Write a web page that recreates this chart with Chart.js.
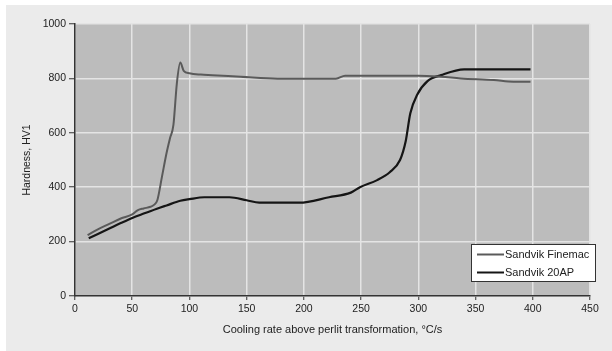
<!DOCTYPE html>
<html><head><meta charset="utf-8">
<script src="https://cdn.jsdelivr.net/npm/chart.js@4/dist/chart.umd.min.js"></script>
<style>html,body{margin:0;padding:0;background:#fff;}#wrap{width:612px;height:351px;}</style>
</head><body><div id="wrap"><canvas id="c" width="612" height="351"></canvas></div>
<script>
const seriesNames = ["Sandvik Finemac", "Sandvik 20AP"];
const finemacX = [11, 20, 30, 40, 50, 55, 60, 66, 69, 72, 76, 80, 83, 86, 89, 92, 95, 100, 110, 120, 145, 177, 228, 236, 267, 300, 320, 337, 366, 383, 398];
const finemacY = [224, 245, 265, 285, 300, 316, 322, 328, 335, 353, 439, 526, 580, 629, 782, 858, 828, 819, 814, 812, 806, 799, 799, 810, 810, 810, 806, 800, 794, 788, 788];
const ap20X = [12, 20, 30, 40, 50, 60, 71, 80, 92, 100, 113, 135, 150, 161, 196, 222, 241, 249, 264, 275, 284, 289, 293, 299, 308, 320, 340, 398];
const ap20Y = [212, 228, 248, 268, 287, 303, 320, 333, 350, 356, 363, 363, 352, 343, 343, 363, 380, 400, 426, 455, 500, 570, 672, 740, 790, 812, 833, 833];
const xTitle = "Cooling rate above perlit transformation, °C/s";
const yTitle = "Hardness, HV1";

const pts = (xs, ys) => xs.map((x, i) => ({x: x, y: ys[i]}));
const FONT = "'Liberation Sans', Arial, sans-serif";

const bgPlugin = {
  id: 'bg',
  beforeDraw(chart) {
    const ctx = chart.ctx, a = chart.chartArea;
    ctx.save();
    ctx.fillStyle = '#ffffff';
    ctx.fillRect(0, 0, chart.width, chart.height);
    ctx.fillStyle = '#ebebeb';
    ctx.fillRect(6, 5, chart.width - 6, chart.height - 5);
    ctx.fillStyle = '#bcbcbc';
    ctx.fillRect(a.left, a.top, a.right - a.left, a.bottom - a.top);
    ctx.restore();
  }
};
const legendPlugin = {
  id: 'boxLegend',
  afterDraw(chart) {
    const ctx = chart.ctx;
    ctx.save();
    ctx.fillStyle = '#ffffff';
    ctx.fillRect(471.5, 244.5, 124, 37);
    ctx.strokeStyle = '#333';
    ctx.lineWidth = 1;
    ctx.strokeRect(471.5, 244.5, 124, 37);
    ctx.font = '11px ' + FONT;
    ctx.textBaseline = 'middle';
    chart.data.datasets.forEach((ds, i) => {
      const y = 254.5 + i * 18;
      ctx.strokeStyle = ds.borderColor;
      ctx.lineWidth = 2;
      ctx.beginPath(); ctx.moveTo(477, y); ctx.lineTo(504, y); ctx.stroke();
      ctx.fillStyle = '#222';
      ctx.fillText(ds.label, 505, y + 0.5);
    });
    ctx.restore();
  }
};

new Chart(document.getElementById('c'), {
  type: 'line',
  data: {
    datasets: [
      {label: seriesNames[0], data: pts(finemacX, finemacY), borderColor: '#5a5a5a', borderWidth: 2, pointRadius: 0, cubicInterpolationMode: 'monotone', fill: false},
      {label: seriesNames[1], data: pts(ap20X, ap20Y), borderColor: '#151515', borderWidth: 2.2, pointRadius: 0, cubicInterpolationMode: 'monotone', fill: false}
    ]
  },
  options: {
    responsive: false, animation: false, devicePixelRatio: 1,
    layout: {padding: {top: 24, right: 22, left: 0, bottom: 0}},
    plugins: {legend: {display: false}, tooltip: {enabled: false}},
    scales: {
      x: {
        type: 'linear', min: 0, max: 450,
        ticks: {stepSize: 50, color: '#222', font: {family: FONT, size: 10.5}, padding: 3, maxRotation: 0, callback: v => String(v)},
        grid: {color: '#e4e4e4', lineWidth: 1.5, tickColor: '#333', tickLength: 4, tickWidth: 1},
        border: {color: '#333', width: 1.5},
        title: {display: true, text: xTitle, color: '#222', font: {family: FONT, size: 11}, padding: {top: 0, bottom: 14}},
        afterFit(s) { s.height = 55; }
      },
      y: {
        min: 0, max: 1000,
        ticks: {stepSize: 200, color: '#222', font: {family: FONT, size: 10.5}, padding: 3, callback: v => String(v)},
        grid: {color: '#e4e4e4', lineWidth: 1.5, tickColor: '#333', tickLength: 6, tickWidth: 1},
        border: {color: '#333', width: 1.5},
        title: {display: true, text: yTitle, color: '#222', font: {family: FONT, size: 10.5}, padding: {top: 21, bottom: 0}},
        afterFit(s) { s.width = 75; }
      }
    }
  },
  plugins: [bgPlugin, legendPlugin]
});
</script></body></html>
